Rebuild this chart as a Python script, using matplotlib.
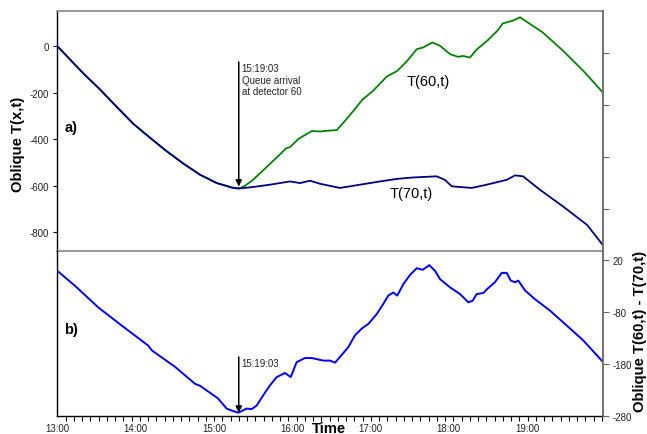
import matplotlib
matplotlib.use("Agg")
import matplotlib.pyplot as plt
import numpy as np
from matplotlib.ticker import FixedLocator

plt.rcParams['font.family'] = ['Liberation Sans', 'DejaVu Sans']

# ---- data (time in decimal hours) ----
t60 = [13.0, 13.332, 13.545, 13.758, 13.971, 14.184, 14.397, 14.609, 14.822, 15.036,
       15.248, 15.32, 15.40, 15.50, 15.68, 15.84, 15.92, 15.97, 16.08, 16.25, 16.36,
       16.48, 16.57, 16.67, 16.78, 16.90, 17.03, 17.21, 17.34, 17.47, 17.59, 17.67,
       17.79, 17.89, 18.02, 18.12, 18.18, 18.27, 18.36, 18.49, 18.62, 18.69, 18.81,
       18.91, 19.04, 19.20, 19.46, 19.72, 19.97]
v60 = [0, -117, -186, -261, -334, -394, -452, -505, -553, -589,
       -610, -613, -600, -575, -518, -467, -440, -435, -399, -365, -367,
       -363, -361, -323, -279, -229, -193, -130, -107, -63, -13, -6,
       16, 1, -35, -46, -42, -49, -13, 23, 66, 98, 109,
       124, 95, 59, -20, -107, -200]

t70 = [13.0, 13.332, 13.545, 13.758, 13.971, 14.184, 14.397, 14.609, 14.822, 15.036,
       15.248, 15.333, 15.50, 15.716, 15.972, 16.10, 16.227, 16.355, 16.61, 16.866,
       17.121, 17.338, 17.542, 17.845, 17.95, 18.037, 18.292, 18.484, 18.74, 18.846,
       18.948, 19.165, 19.46, 19.766, 19.966]
v70 = [0, -117, -186, -261, -334, -394, -452, -505, -553, -589,
       -610, -612, -606, -596, -582, -589, -579, -592, -610, -596,
       -582, -571, -565, -560, -575, -603, -610, -596, -575, -556,
       -560, -618, -690, -769, -855]

tdiff = [13.0, 13.226, 13.524, 13.822, 14.162, 14.205, 14.503, 14.759, 14.825, 15.05,
         15.163, 15.248, 15.312, 15.419, 15.483, 15.547, 15.631, 15.716, 15.802, 15.908,
         15.981, 16.057, 16.163, 16.249, 16.397, 16.483, 16.547, 16.632, 16.716, 16.802,
         16.888, 16.972, 17.079, 17.164, 17.227, 17.291, 17.342, 17.419, 17.504, 17.59,
         17.667, 17.751, 17.824, 17.888, 18.015, 18.143, 18.249, 18.305, 18.356, 18.441,
         18.492, 18.59, 18.676, 18.74, 18.791, 18.846, 18.888, 18.973, 19.101, 19.292,
         19.506, 19.718, 19.953]
vdiff = [1, -28, -70, -105, -144, -153, -185, -218, -222, -246,
         -266, -271, -274, -266, -267, -260, -240, -221, -205, -197,
         -205, -176, -168, -168, -173, -173, -177, -162, -147, -124,
         -111, -102, -83, -63, -47, -41, -47, -25, -7, 6,
         3, 12, 1, -15, -31, -44, -60, -57, -44, -42,
         -34, -21, -3, -3, -18, -21, -18, -37, -54, -76,
         -105, -134, -173]

hour_ticks = [13, 14, 15, 16, 17, 18, 19]
hour_labels = ["13:00", "14:00", "15:00", "16:00", "17:00", "18:00", "19:00"]
top_yticks = [0, -200, -400, -600, -800]
right_yticks = [20, -80, -180, -280]
right_ticks_all = [420, 320, 220, 120, 20, -80, -180, -280]
t_queue = 15 + 19 / 60 + 3 / 3600

W, H = 647, 435
fig = plt.figure(figsize=(W / 100, H / 100), dpi=100)

def fx(px):
    return px / W

def fy(py):
    return 1 - py / H

L, R = 57.3, 603.3
T1, B1, B2 = 12.3, 251.7, 416.8
xlim = (13.0, 13.0 + (R - L) / 78.3)

# ---- top panel ----
ax1 = fig.add_axes([fx(L), fy(B1), fx(R - L), (B1 - T1) / H])
ax1.plot(t60, v60, color='#008000', lw=1.3, zorder=3)
ax1.plot(t70, v70, color='#000080', lw=1.3, zorder=4)
ax1.set_xlim(*xlim)
ax1.set_ylim(-880, 150)
ax1.set_yticks(top_yticks)
ax1.set_yticklabels([str(v) for v in top_yticks], fontsize=7, color='#222222')
ax1.tick_params(axis='y', direction='out', length=3, width=0.8, pad=3)
ax1.set_xticks([])
for s in ['top', 'bottom']:
    ax1.spines[s].set_color('#909090')
    ax1.spines[s].set_linewidth(1.3)
ax1.spines['right'].set_visible(False)
ax1.spines['left'].set_color('black')
ax1.spines['left'].set_linewidth(1.0)
ax1.set_facecolor('none')

ax1.annotate('', xy=(t_queue, -604), xytext=(t_queue, -68),
             arrowprops=dict(arrowstyle='-|>', color='black', lw=1.1,
                             mutation_scale=9, shrinkA=0, shrinkB=0))
ax1.annotate('15:19:03\nQueue arrival\nat detector 60', xy=(t_queue, -68),
             xytext=(2, -1), textcoords='offset points', ha='left', va='top',
             fontsize=7, linespacing=1.15, color='#222222')
ax1.text(17.46, -150, 'T(60,t)', fontsize=10.5, ha='left', va='center')
ax1.text(17.25, -632, 'T(70,t)', fontsize=10.5, ha='left', va='center')
fig.text(fx(65), fy(128), 'a)', fontsize=10.5, fontweight='bold', ha='left', va='center')

# ---- bottom panel ----
ax2 = fig.add_axes([fx(L), fy(B2), fx(R - L), (B2 - B1) / H])
ax2.plot(tdiff, vdiff, color='#0000FF', lw=1.4)
ax2.set_xlim(*xlim)
ax2.set_ylim(-280, 40)
ax2.set_yticks([])
ax2.set_xticks(hour_ticks)
ax2.set_xticklabels(hour_labels, fontsize=7, color='#222222')
ax2.tick_params(axis='x', which='major', length=0, pad=5.5)
ax2.xaxis.set_minor_locator(FixedLocator(np.arange(13.0, xlim[1], 0.1054)))
ax2.tick_params(axis='x', which='minor', direction='out', length=3.5, width=0.8)
ax2.spines['top'].set_visible(False)
ax2.spines['right'].set_visible(False)
ax2.spines['left'].set_color('black')
ax2.spines['bottom'].set_color('black')
ax2.spines['left'].set_linewidth(1.0)
ax2.spines['bottom'].set_linewidth(1.0)
ax2.set_facecolor('none')

ax2.annotate('', xy=(t_queue, -274), xytext=(t_queue, -166),
             arrowprops=dict(arrowstyle='-|>', color='black', lw=1.1,
                             mutation_scale=9, shrinkA=0, shrinkB=0))
ax2.annotate('15:19:03', xy=(t_queue, -166), xytext=(2, -4), textcoords='offset points',
             ha='left', va='center', fontsize=7, color='#222222')
fig.text(fx(64), fy(330), 'b)', fontsize=10.5, fontweight='bold', ha='left', va='center')

# ---- right axis spanning both panels ----
axr = fig.add_axes([fx(L), fy(B2), fx(R - L), (B2 - T1) / H])
axr.set_facecolor('none')
axr.set_xlim(*xlim)
axr.set_xticks([])
axr.set_ylim(-280, -280 + (B2 - T1) / 51.8 * 100)
for s in ['top', 'bottom', 'left']:
    axr.spines[s].set_visible(False)
axr.spines['right'].set_color('#666666')
axr.spines['right'].set_linewidth(1.3)
axr.yaxis.tick_right()
axr.set_yticks(right_ticks_all)
axr.set_yticklabels([str(v) if v in right_yticks else '' for v in right_ticks_all],
                    fontsize=7, color='#222222')
axr.tick_params(axis='y', direction='out', length=4.5, width=0.8, pad=2, colors='#666666',
                labelcolor='#222222')

# ---- axis titles ----
fig.text(fx(18.3), fy(144.7), 'Oblique T(x,t)', rotation=90, fontsize=10.7,
         fontweight='bold', ha='center', va='center')
fig.text(fx(640), fy(331), 'Oblique T(60,t) - T(70,t)', rotation=90, fontsize=10.7,
         fontweight='bold', ha='center', va='center')
fig.text(fx(329), fy(433.5), 'Time', fontsize=10.7, fontweight='bold', ha='center',
         va='baseline')

fig.savefig('out.png', dpi=100)
